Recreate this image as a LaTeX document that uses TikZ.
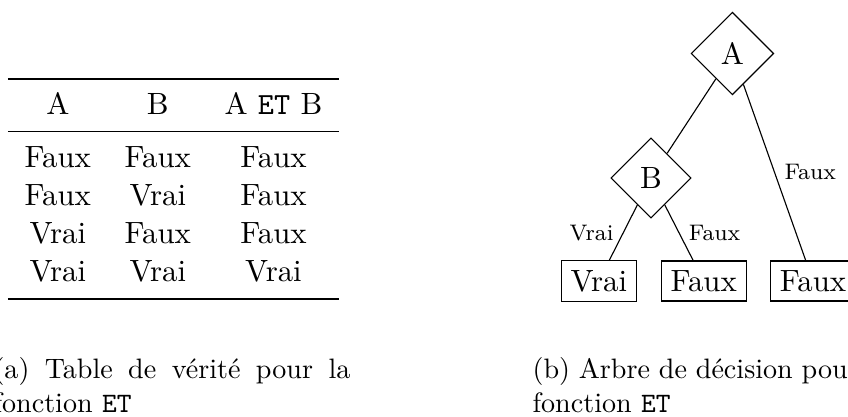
\documentclass[tikz,border=0pt]{standalone}
\usepackage{fontspec}
\usepackage{booktabs}
\usetikzlibrary{shapes.geometric}

\newcommand{\mainsize}{\fontsize{10.95pt}{13.6pt}\selectfont}
\newcommand{\capsize}{\fontsize{10pt}{12pt}\selectfont}
\newcommand{\labelsize}{\fontsize{8pt}{9.5pt}\selectfont}

\tikzstyle{decision} = [diamond, draw, font=\mainsize]
\tikzstyle{leaf} = [rectangle, draw, font=\mainsize]
\tikzstyle{edgelabel} = [font=\labelsize]
\tikzstyle{captiontext} = [anchor=base west, inner sep=0pt, text width=127pt, align=justify, font=\capsize]

\begin{document}
\begin{tikzpicture}
\useasboundingbox (0,0) rectangle (10.606,5.203);
\clip (0,0) rectangle (10.606,5.203);

% truth table
\node[inner sep=0pt, font=\mainsize] (table) at (2.170,2.839) {%
\begin{tabular}{ccc}
\toprule
A & B & A \texttt{ET} B \\
\midrule
Faux & Faux & Faux \\
Faux & Vrai & Faux \\
Vrai & Faux & Faux \\
Vrai & Vrai & Vrai \\
\bottomrule
\end{tabular}};

% decision tree
\node[decision] (A) at (9.161,4.534) {A};
\node[decision] (B) at (8.142,2.977) {B};
\node[leaf] (vrai) at (7.489,1.688) {Vrai};
\node[leaf] (faux1) at (8.801,1.688) {Faux};
\node[leaf] (faux2) at (10.168,1.688) {Faux};

\draw (A) -- (B);
\draw (A) -- node[edgelabel, right] {Faux} (faux2);
\draw (B) -- node[edgelabel, left] {Vrai} (vrai);
\draw (B) -- node[edgelabel, right] {Faux} (faux1);

% captions
\node[captiontext] (capa) at (-0.088,0.467) {(a) Table de vérité pour la fonction \texttt{ET}};
\node[captiontext] (capb) at (6.654,0.467) {(b) Arbre de décision pour la fonction \texttt{ET}};
\end{tikzpicture}
\end{document}
